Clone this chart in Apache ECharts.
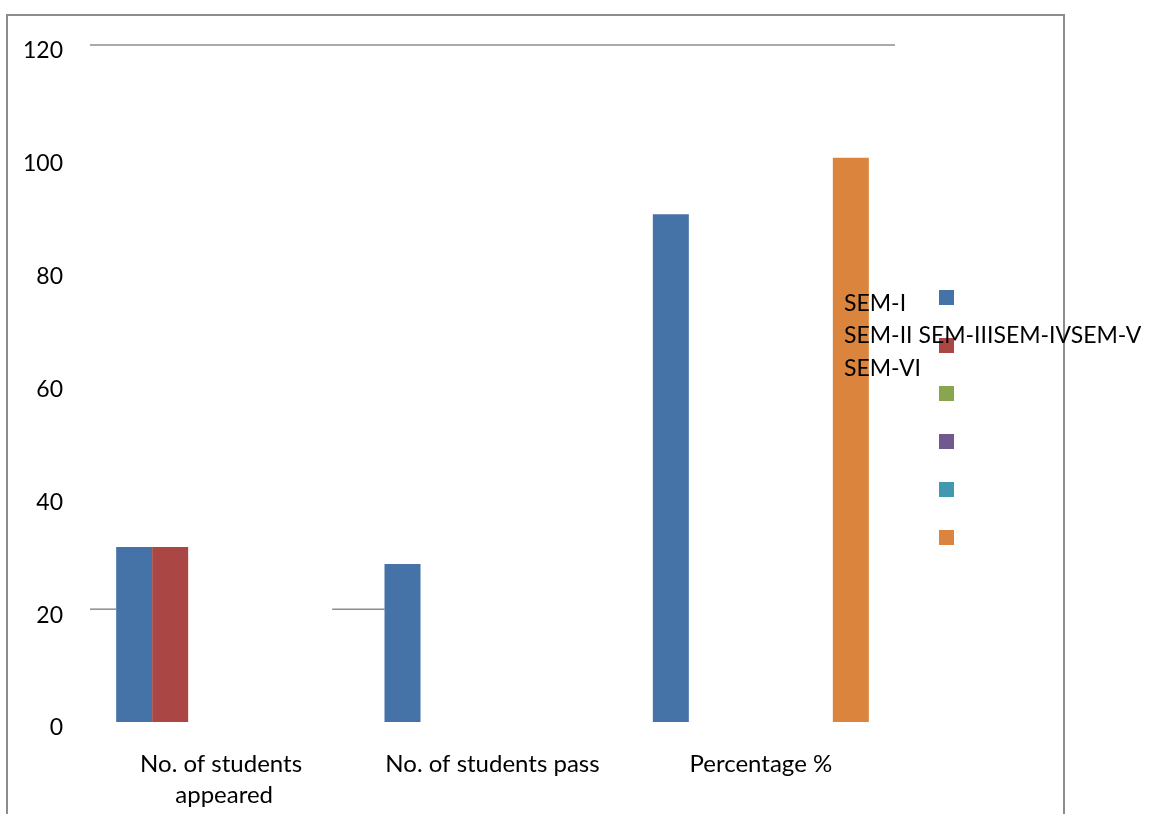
<!DOCTYPE html>
<html>
<head>
<meta charset="utf-8">
<script src="https://cdn.jsdelivr.net/npm/echarts@6/dist/echarts.min.js"></script>
<style>html,body{margin:0;padding:0;background:#fff}#c{width:1149px;height:814px}</style>
</head>
<body>
<div id="c"></div>
<script>
const categories = ['No. of students appeared', 'No. of students pass', 'Percentage %'];
const seriesNames = ['SEM-I', 'SEM-II', 'SEM-III', 'SEM-IV', 'SEM-V', 'SEM-VI'];
const semI = [31, 28, 90];
const semII = [31, null, null];
const semIII = [null, null, null];
const semIV = [null, null, null];
const semV = [null, null, null];
const semVI = [null, null, 100];
const yTicks = [0, 20, 40, 60, 80, 100, 120];
const visibleGridValues = [20, 120];

const colors = ['#4572A7', '#AA4643', '#89A54E', '#71588F', '#4198AF', '#DB843D'];
const FONT = 'Lato, "Open Sans", sans-serif';
const FS = 23;
const FS_CAT = 24;
const BAR_W = 36;
const allData = [semI, semII, semIII, semIV, semV, semVI];

const chart = echarts.init(document.getElementById('c'), null, {renderer: 'canvas'});
const option = {
  animation: false,
  color: colors,
  textStyle: {fontFamily: FONT},
  grid: {left: 90, right: 254, top: 45, bottom: 92, containLabel: false},
  legend: {
    orient: 'vertical',
    left: 939, top: 290,
    padding: 0,
    itemWidth: 15, itemHeight: 15, itemGap: 33,
    icon: 'rect',
    formatter: () => '',
    textStyle: {fontSize: 8, lineHeight: 8},
    data: seriesNames
  },
  xAxis: {
    type: 'category',
    data: categories,
    axisLine: {show: false},
    axisTick: {show: false},
    axisLabel: {
      interval: 0, margin: 27,
      fontSize: FS_CAT, lineHeight: 31, color: '#000', fontFamily: FONT,
      width: 235, overflow: 'break'
    }
  },
  yAxis: {
    type: 'value',
    min: yTicks[0], max: yTicks[yTicks.length - 1], interval: 20,
    axisLine: {show: false},
    axisTick: {show: false},
    splitLine: {show: false},
    axisLabel: {
      margin: 27, fontSize: FS, color: '#000', fontFamily: FONT,
      verticalAlign: 'top', lineHeight: 12
    }
  },
  series: allData.map((d, i) => ({
    name: seriesNames[i],
    type: 'bar',
    data: d,
    barWidth: BAR_W,
    barGap: 0,
    itemStyle: {color: colors[i]}
  }))
};
chart.setOption(option);

function drawExtras() {
  const c0 = chart.convertToPixel({xAxisIndex: 0}, 0);
  const c1 = chart.convertToPixel({xAxisIndex: 0}, 1);
  const c2 = chart.convertToPixel({xAxisIndex: 0}, 2);
  const band = c1 - c0;
  const half = BAR_W * seriesNames.length / 2;
  const y20 = chart.convertToPixel({yAxisIndex: 0}, visibleGridValues[0]);
  const y120 = chart.convertToPixel({yAxisIndex: 0}, visibleGridValues[1]);
  const ls = {stroke: '#8c8c8c', lineWidth: 1.5};
  const legendText = seriesNames[0] + '\n' + seriesNames[1] + ' ' + seriesNames[2] + seriesNames[3] + seriesNames[4] + '\n' + seriesNames[5];
  chart.setOption({
    graphic: [
      {type: 'rect', silent: true, shape: {x: 7, y: 15, width: 1057, height: 900}, style: {fill: 'none', stroke: '#8c8c8c', lineWidth: 2}},
      {type: 'line', silent: true, shape: {x1: c0 - band / 2, y1: y120, x2: c2 + band / 2, y2: y120}, style: ls},
      {type: 'line', silent: true, shape: {x1: c0 - band / 2, y1: y20, x2: c0 - half, y2: y20}, style: ls},
      {type: 'line', silent: true, shape: {x1: c0 + half, y1: y20, x2: c1 - half, y2: y20}, style: ls},
      {type: 'text', silent: true, x: 844, y: 287, z: 10,
       style: {text: legendText, fontSize: FS, lineHeight: 32.5, fontFamily: FONT, fill: '#000', verticalAlign: 'top', align: 'left'}}
    ]
  });
}
drawExtras();
</script>
</body>
</html>
